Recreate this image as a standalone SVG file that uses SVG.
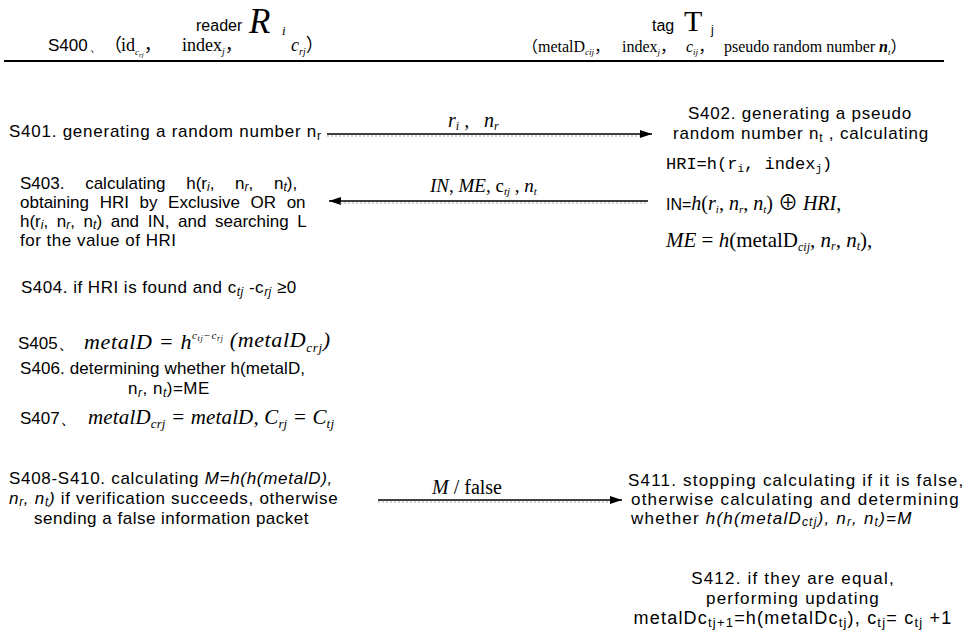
<svg xmlns="http://www.w3.org/2000/svg" width="971" height="638" viewBox="0 0 971 638">
<style>
.s{font-family:"Liberation Sans",Arial,sans-serif;font-size:17px;letter-spacing:0.5px;fill:#000}
.w{letter-spacing:1.2px}
.r{font-family:"Liberation Serif","Times New Roman","Noto Sans CJK SC",serif;fill:#000}
.i{font-style:italic}
.m{font-family:"Liberation Mono",monospace;fill:#000}
.ln{stroke:#000;stroke-width:1.5;fill:none}
.dt{stroke:#aaa;stroke-width:1;stroke-dasharray:2 2;fill:none}
</style>
<defs>
<marker id="ah" viewBox="0 0 12 8" refX="12" refY="4" markerWidth="12" markerHeight="8" markerUnits="userSpaceOnUse" orient="auto">
<path d="M0,0 L12,4 L0,8 Z" fill="#000"/>
</marker>
</defs>
<rect width="971" height="638" fill="#fff"/>

<g id="header">
<text class="s" x="196" y="31" style="font-size:16px;letter-spacing:0">reader</text>
<text class="r i" x="249" y="33" font-size="35">R</text>
<text class="r i" x="282" y="35" font-size="13">i</text>
<text class="s" x="652" y="31" style="font-size:16px;letter-spacing:0">tag</text>
<text class="r" x="684" y="31" font-size="30">T</text>
<text class="s" x="711" y="34" style="font-size:12px;letter-spacing:0">j</text>
<text class="s" x="48" y="51" style="letter-spacing:0">S400</text>
<text class="s" x="89" y="51" style="font-size:14px;letter-spacing:0">、</text>
<text class="r" x="104" y="51" font-size="18">（<tspan x="121">id</tspan><tspan font-size="9" dy="4" class="i">c</tspan><tspan font-size="7" dy="2" class="i">rj</tspan><tspan dy="-6">，</tspan><tspan x="182">index</tspan><tspan font-size="10" dy="4" class="i">j</tspan><tspan dy="-4">，</tspan><tspan x="291" class="i">c</tspan><tspan font-size="10" dy="4" class="i">rj</tspan><tspan dy="-4">）</tspan></text>
<text class="r" x="522" y="52" font-size="16">（<tspan x="538">metalD</tspan><tspan font-size="9" dy="3" class="i">cij</tspan><tspan dy="-3">，</tspan><tspan x="622">index</tspan><tspan font-size="9" dy="3" class="i">j</tspan><tspan dy="-3">，</tspan><tspan x="686" class="i">c</tspan><tspan font-size="9" dy="3" class="i">ij</tspan><tspan dy="-3">，</tspan><tspan x="724">pseudo random number </tspan><tspan class="i" font-weight="bold">n</tspan><tspan font-size="9" dy="3" class="i">t</tspan><tspan dy="-3">）</tspan></text>
<line x1="4" y1="61" x2="944" y2="61" stroke="#000" stroke-width="2"/>
</g>

<g id="S401">
<text class="s" x="9" y="137" style="letter-spacing:0.75px">S401. generating a random number n<tspan font-size="12" dy="3">r</tspan></text>
</g>

<g id="S402">
<text class="s" x="800" y="119" text-anchor="middle" style="letter-spacing:0.8px">S402. generating a pseudo</text>
<text class="s" x="673" y="139" style="letter-spacing:0.8px">random number n<tspan font-size="12" dy="3">t</tspan><tspan dy="-3"> , calculating</tspan></text>
<text class="m" x="666" y="169" font-size="17">HRI=h(r<tspan font-size="11" dy="3">i</tspan><tspan dy="-3">, index</tspan><tspan font-size="11" dy="3">j</tspan><tspan dy="-3">)</tspan></text>
<text class="s" x="666" y="210" style="font-size:16px;letter-spacing:0">IN=<tspan class="r i" font-size="20">h</tspan><tspan class="r" font-size="20">(</tspan><tspan class="r i" font-size="20">r</tspan><tspan class="r i" font-size="11" dy="3">i</tspan><tspan class="r i" font-size="20" dy="-3">, n</tspan><tspan class="r i" font-size="11" dy="3">r</tspan><tspan class="r i" font-size="20" dy="-3">, n</tspan><tspan class="r i" font-size="11" dy="3">t</tspan><tspan class="r" font-size="20" dy="-3">) ⊕ </tspan><tspan class="r i" font-size="20">HRI</tspan><tspan class="r" font-size="20">,</tspan></text>
<text class="r" x="666" y="247" font-size="21"><tspan class="i">ME</tspan> = <tspan class="i">h</tspan>(metalD<tspan class="i" font-size="12" dy="4">cij</tspan><tspan class="i" dy="-4">, n</tspan><tspan class="i" font-size="12" dy="3">r</tspan><tspan class="i" dy="-3">, n</tspan><tspan class="i" font-size="12" dy="3">t</tspan><tspan dy="-3">),</tspan></text>
</g>

<g id="S403">
<text class="s" x="20" y="189" style="letter-spacing:0" word-spacing="16">S403. calculating h(r<tspan font-size="12" dy="2" class="i">i</tspan><tspan dy="-2">, n</tspan><tspan font-size="12" dy="2" class="i">r</tspan><tspan dy="-2">, n</tspan><tspan font-size="12" dy="2" class="i">t</tspan><tspan dy="-2">),</tspan></text>
<text class="s" x="20" y="208" style="letter-spacing:0" word-spacing="5.9">obtaining HRI by Exclusive OR on</text>
<text class="s" x="20" y="227" style="letter-spacing:0" word-spacing="3.9">h(r<tspan font-size="12" dy="2" class="i">i</tspan><tspan dy="-2">, n</tspan><tspan font-size="12" dy="2" class="i">r</tspan><tspan dy="-2">, n</tspan><tspan font-size="12" dy="2" class="i">t</tspan><tspan dy="-2">) and IN, and searching L</tspan></text>
<text class="s" x="20" y="246">for the value of HRI</text>
</g>

<g id="S404">
<text class="s" x="21" y="293">S404. if HRI is found and c<tspan font-size="12" dy="3" class="i">tj</tspan><tspan dy="-3"> -c</tspan><tspan font-size="12" dy="3" class="i">rj</tspan><tspan dy="-3"> ≥0</tspan></text>
</g>

<g id="S405">
<text class="s" x="18" y="349" style="letter-spacing:0">S405、</text>
<text class="r i" x="84" y="349" font-size="22" textLength="246" lengthAdjust="spacing">metalD = h<tspan font-size="11" dy="-10">c</tspan><tspan font-size="8" dy="2">tj</tspan><tspan font-size="11" dy="-2">−c</tspan><tspan font-size="8" dy="2">rj</tspan><tspan dy="6"> (metalD</tspan><tspan font-size="13" dy="5">crj</tspan><tspan dy="-5">)</tspan></text>
</g>

<g id="S406">
<text class="s" x="20" y="374" style="letter-spacing:0.1px">S406. determining whether h(metalD,</text>
<text class="s" x="128" y="394">n<tspan font-size="12" dy="3" class="i">r</tspan><tspan dy="-3">, n</tspan><tspan font-size="12" dy="3" class="i">t</tspan><tspan dy="-3">)=ME</tspan></text>
</g>

<g id="S407">
<text class="s" x="20" y="424" style="letter-spacing:0">S407、</text>
<text class="r i" x="88" y="424" font-size="21" textLength="246" lengthAdjust="spacing">metalD<tspan font-size="13" dy="4">crj</tspan><tspan dy="-4"> = metalD, C</tspan><tspan font-size="13" dy="4">rj</tspan><tspan dy="-4"> = C</tspan><tspan font-size="13" dy="4">tj</tspan></text>
</g>

<g id="S408">
<text class="s" x="9" y="484" style="letter-spacing:0.7px">S408-S410. calculating <tspan class="i">M=h(h(metalD),</tspan></text>
<text class="s" x="9" y="504" style="letter-spacing:0.7px"><tspan class="i">n</tspan><tspan font-size="12" dy="2" class="i">r</tspan><tspan class="i" dy="-2">, n</tspan><tspan font-size="12" dy="2" class="i">t</tspan><tspan class="i" dy="-2">)</tspan> if verification succeeds, otherwise</text>
<text class="s" x="34" y="524">sending a false information packet</text>
</g>

<g id="S411">
<text class="s w" x="628" y="486">S411. stopping calculating if it is false,</text>
<text class="s w" x="631" y="505">otherwise calculating and determining</text>
<text class="s w" x="631" y="524">whether <tspan class="i">h(h(metalD</tspan><tspan font-size="12" dy="2" class="i">ctj</tspan><tspan class="i" dy="-2">), n</tspan><tspan font-size="12" dy="2" class="i">r</tspan><tspan class="i" dy="-2">, n</tspan><tspan font-size="12" dy="2" class="i">t</tspan><tspan class="i" dy="-2">)=M</tspan></text>
</g>

<g id="S412">
<text class="s w" x="793" y="584" text-anchor="middle">S412. if they are equal,</text>
<text class="s w" x="793" y="604" text-anchor="middle">performing updating</text>
<text class="s" x="793" y="624" text-anchor="middle" style="font-size:18px;letter-spacing:1.2px">metalDc<tspan font-size="13" dy="3">tj+1</tspan><tspan dy="-3">=h(metalDc</tspan><tspan font-size="13" dy="3">tj</tspan><tspan dy="-3">), c</tspan><tspan font-size="13" dy="3">tj</tspan><tspan dy="-3">= c</tspan><tspan font-size="13" dy="3">tj</tspan><tspan dy="-3"> +1</tspan></text>
</g>

<g id="connectors">
<line class="ln" x1="327" y1="134" x2="652" y2="134" marker-end="url(#ah)"/>
<line class="dt" x1="327" y1="136" x2="640" y2="136"/>
<text class="r i" x="448" y="127" font-size="20">r<tspan font-size="12" dy="3">i</tspan><tspan dy="-3"> ,</tspan><tspan x="484">n</tspan><tspan font-size="12" dy="3">r</tspan></text>
<line class="ln" x1="648" y1="201" x2="329" y2="201" marker-end="url(#ah)"/>
<line class="dt" x1="340" y1="203" x2="648" y2="203"/>
<text class="r" x="430" y="192" font-size="19"><tspan class="i">IN</tspan>, <tspan class="i">ME</tspan>, c<tspan font-size="11" dy="3" class="i">tj</tspan><tspan dy="-3"> , </tspan><tspan class="i">n</tspan><tspan class="i" font-size="11" dy="3">t</tspan></text>
<line class="ln" x1="378" y1="500" x2="622" y2="500" marker-end="url(#ah)"/>
<line class="dt" x1="378" y1="502" x2="610" y2="502"/>
<text class="r" x="432" y="494" font-size="20"><tspan class="i">M</tspan> / false</text>
</g>
</svg>
